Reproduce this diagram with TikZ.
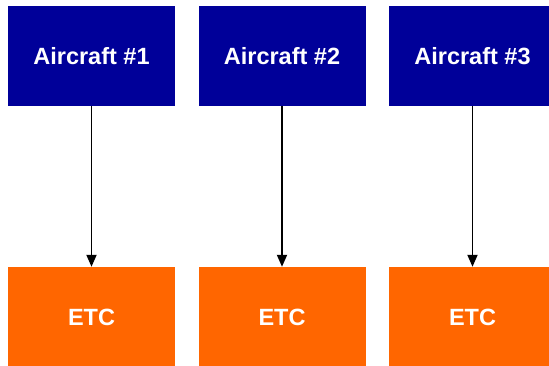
\documentclass[tikz,border=0pt]{standalone}
\usepackage{fontspec}
\setmainfont{Liberation Sans}
\usetikzlibrary{arrows.meta}
\definecolor{acblue}{HTML}{000099}
\definecolor{etcorange}{HTML}{FF6600}
\begin{document}
\begin{tikzpicture}[x=1pt,y=-1pt,
  box/.style={minimum width=167pt,minimum height=100pt,inner sep=0pt,
    text=white,font=\fontsize{23.5}{27}\selectfont\bfseries},
  aircraft/.style={box,fill=acblue},
  etc/.style={box,fill=etcorange},
  link/.style={draw=black,line width=1.8pt,-{Triangle[length=12pt,width=10pt]}}]
\useasboundingbox (0,0) rectangle (549,366);
\clip (0,0) rectangle (549,366);
\node[aircraft] (a1) at (91.5,56) {Aircraft \#1};
\node[aircraft] (a2) at (282,56) {Aircraft \#2};
\node[aircraft] (a3) at (472.5,56) {Aircraft \#3};
\node[etc] (e1) at (91.5,317) {ETC};
\node[etc] (e2) at (282,317) {ETC};
\node[etc] (e3) at (472.5,317) {ETC};
\draw[link] (a1) -- (e1);
\draw[link] (a2) -- (e2);
\draw[link] (a3) -- (e3);
\end{tikzpicture}
\end{document}
